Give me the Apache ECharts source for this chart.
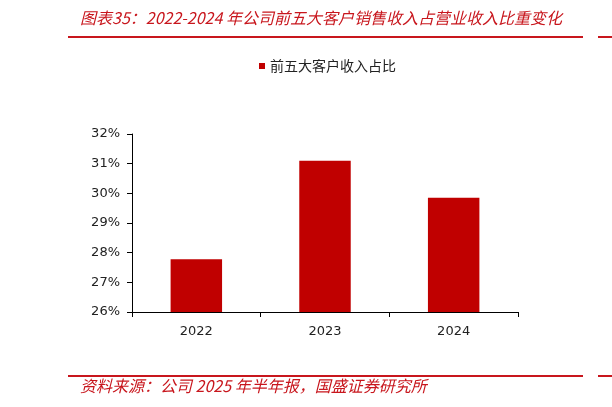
<!DOCTYPE html>
<html>
<head>
<meta charset="utf-8">
<script src="https://cdn.jsdelivr.net/npm/echarts@6/dist/echarts.min.js"></script>
<style>
html,body{margin:0;padding:0;background:#fff;}
#chart{width:612px;height:407px;}
</style>
</head>
<body>
<div id="chart"></div>
<script>
const categories = ['2022', '2023', '2024'];
const shareValues = [27.78, 31.10, 29.85];
const seriesName = '前五大客户收入占比';
const yTicks = {min: 26, max: 32, interval: 1};
const titleText = '图表35：2022-2024 年公司前五大客户销售收入占营业收入比重变化';
const sourceText = '资料来源：公司 2025 年半年报，国盛证券研究所';

const red = '#c00000';
const lineRed = '#c8161d';
const chart = echarts.init(document.getElementById('chart'));
chart.setOption({
  animation: false,
  backgroundColor: '#fff',
  grid: {left: 132, right: 94, top: 134, bottom: 95},
  legend: {
    top: 54, left: 254,
    itemWidth: 6, itemHeight: 6, itemGap: 10, icon: 'rect',
    textStyle: {fontFamily: 'Noto Sans CJK SC', fontSize: 14, color: '#222'},
    data: [seriesName]
  },
  xAxis: {
    type: 'category',
    data: categories,
    axisLine: {lineStyle: {color: '#000', width: 1}},
    axisTick: {show: true, length: 5, lineStyle: {color: '#000'}},
    axisLabel: {fontFamily: 'DejaVu Sans', fontSize: 13, color: '#222', margin: 13}
  },
  yAxis: {
    type: 'value',
    min: yTicks.min, max: yTicks.max, interval: yTicks.interval,
    axisLine: {show: true, lineStyle: {color: '#000', width: 1}},
    axisTick: {show: true, length: 5, lineStyle: {color: '#000'}},
    splitLine: {show: false},
    axisLabel: {formatter: '{value}%', fontFamily: 'DejaVu Sans', fontSize: 13, color: '#222', margin: 12}
  },
  series: [{
    name: seriesName,
    type: 'bar',
    data: shareValues,
    barWidth: '40%',
    itemStyle: {color: red}
  }],
  graphic: [
    {type: 'text', left: 80, top: 10, style: {text: titleText, font: 'italic 16px "Noto Sans CJK SC"', fill: lineRed}},
    {type: 'line', shape: {x1: 68, y1: 37, x2: 583, y2: 37}, style: {stroke: lineRed, lineWidth: 2}},
    {type: 'line', shape: {x1: 598, y1: 37, x2: 612, y2: 37}, style: {stroke: lineRed, lineWidth: 2}},
    {type: 'line', shape: {x1: 68, y1: 376, x2: 583, y2: 376}, style: {stroke: lineRed, lineWidth: 2}},
    {type: 'line', shape: {x1: 598, y1: 376, x2: 612, y2: 376}, style: {stroke: lineRed, lineWidth: 2}},
    {type: 'text', left: 80, top: 378, style: {text: sourceText, font: 'italic 16px "Noto Sans CJK SC"', fill: lineRed}}
  ]
});
</script>
</body>
</html>
